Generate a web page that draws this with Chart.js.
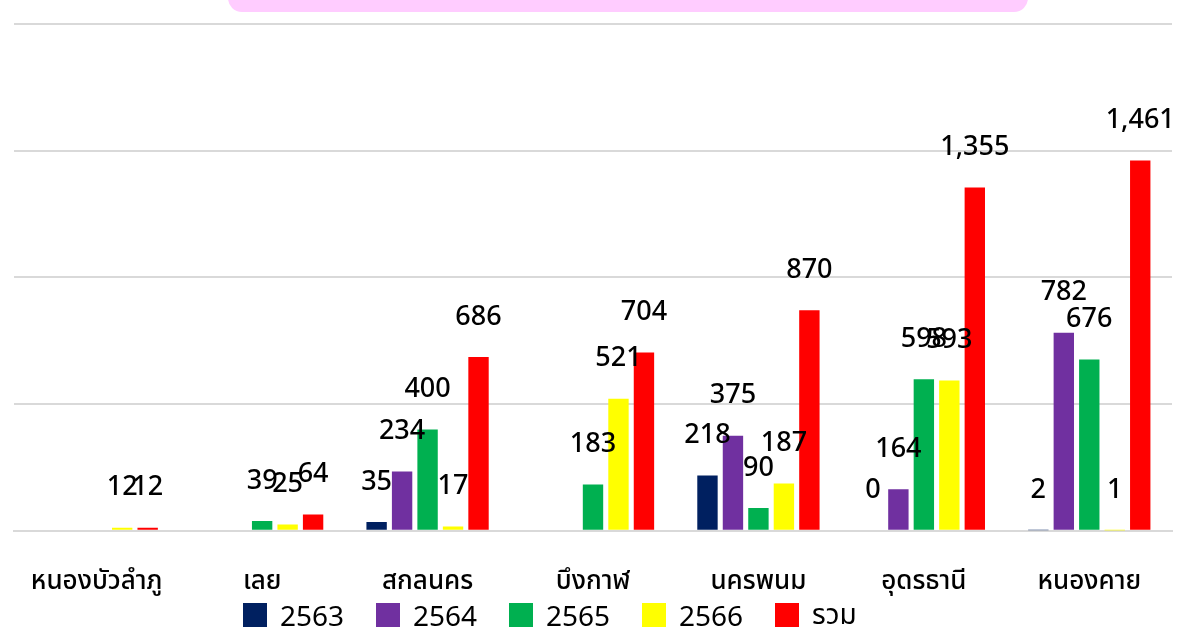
<!DOCTYPE html>
<html>
<head>
<meta charset="utf-8">
<script src="https://cdn.jsdelivr.net/npm/chart.js@4.4.1/dist/chart.umd.min.js"></script>
<style>
    body { margin: 0; background: #fff; }
    #wrap { position: relative; width: 1178px; height: 636px; overflow: hidden; }
    #titleBox { position: absolute; left: 228px; top: -20px; width: 800px; height: 32px; background: #ffccff; border-radius: 14px; }
    #legend { position: absolute; left: 243px; top: 599px; display: flex; font-family: "Noto Sans", "Noto Sans Thai", sans-serif; font-size: 28px; color: #000; }
    .item { display: flex; align-items: center; width: 133px; height: 32px; }
    .box { width: 24px; height: 24px; margin-right: 13px; }
</style>
</head>
<body>
<div id="wrap">
    <canvas id="chart" width="1178" height="636"></canvas>
    <div id="titleBox"></div>
    <div id="legend"></div>
</div>
<script>
const categories = ['หนองบัวลำภู', 'เลย', 'สกลนคร', 'บึงกาฬ', 'นครพนม', 'อุดรธานี', 'หนองคาย'];
const y2563 = [null, null, 35, null, 218, 0, 2];
const y2564 = [null, null, 234, null, 375, 164, 782];
const y2565 = [null, 39, 400, 183, 90, 598, 676];
const y2566 = [12, 25, 17, 521, 187, 593, 1];
const total = [12, 64, 686, 704, 870, 1355, 1461];

const seriesNames = ['2563', '2564', '2565', '2566', 'รวม'];
const seriesColors = ['#002060', '#7030a0', '#00b050', '#ffff00', '#ff0000'];
const seriesData = [y2563, y2564, y2565, y2566, total];

const fontFamily = '"Noto Sans", "Noto Sans Thai", sans-serif';

// value labels drawn a fixed distance above each bar
const valueLabels = {
    id: 'valueLabels',
    afterDatasetsDraw(chart) {
        const ctx = chart.ctx;
        ctx.save();
        ctx.font = '500 27px ' + fontFamily;
        ctx.fillStyle = '#000';
        ctx.textAlign = 'center';
        ctx.textBaseline = 'middle';
        chart.data.datasets.forEach((ds, i) => {
            chart.getDatasetMeta(i).data.forEach((bar, j) => {
                const v = ds.data[j];
                if (v === null) return;
                ctx.fillText(v.toLocaleString('en-US'), bar.x, bar.y - 40);
            });
        });
        ctx.restore();
    }
};

new Chart(document.getElementById('chart'), {
    type: 'bar',
    data: {
        labels: categories,
        datasets: seriesNames.map((name, i) => ({
            label: name,
            data: seriesData[i],
            backgroundColor: seriesColors[i],
            borderWidth: 0
        }))
    },
    options: {
        responsive: false,
        animation: false,
        layout: { padding: { left: 14, right: 6, top: 24, bottom: 12 } },
        datasets: { bar: { categoryPercentage: 0.77, barPercentage: 0.8 } },
        plugins: {
            legend: { display: false },
            tooltip: { enabled: false }
        },
        scales: {
            x: {
                grid: { display: false },
                border: { color: '#d9d9d9', width: 2 },
                ticks: { color: '#000', padding: 27, font: { family: fontFamily, size: 26, weight: '500' } }
            },
            y: {
                min: 0,
                max: 2000,
                ticks: { display: false, stepSize: 500 },
                grid: { color: '#d9d9d9', lineWidth: 2, drawTicks: false },
                border: { display: false }
            }
        }
    },
    plugins: [valueLabels]
});

const legend = document.getElementById('legend');
seriesNames.forEach((name, i) => {
    const item = document.createElement('div');
    item.className = 'item';
    item.innerHTML = `<span class="box" style="background:${seriesColors[i]}"></span><span>${name}</span>`;
    legend.appendChild(item);
});
</script>
</body>
</html>
